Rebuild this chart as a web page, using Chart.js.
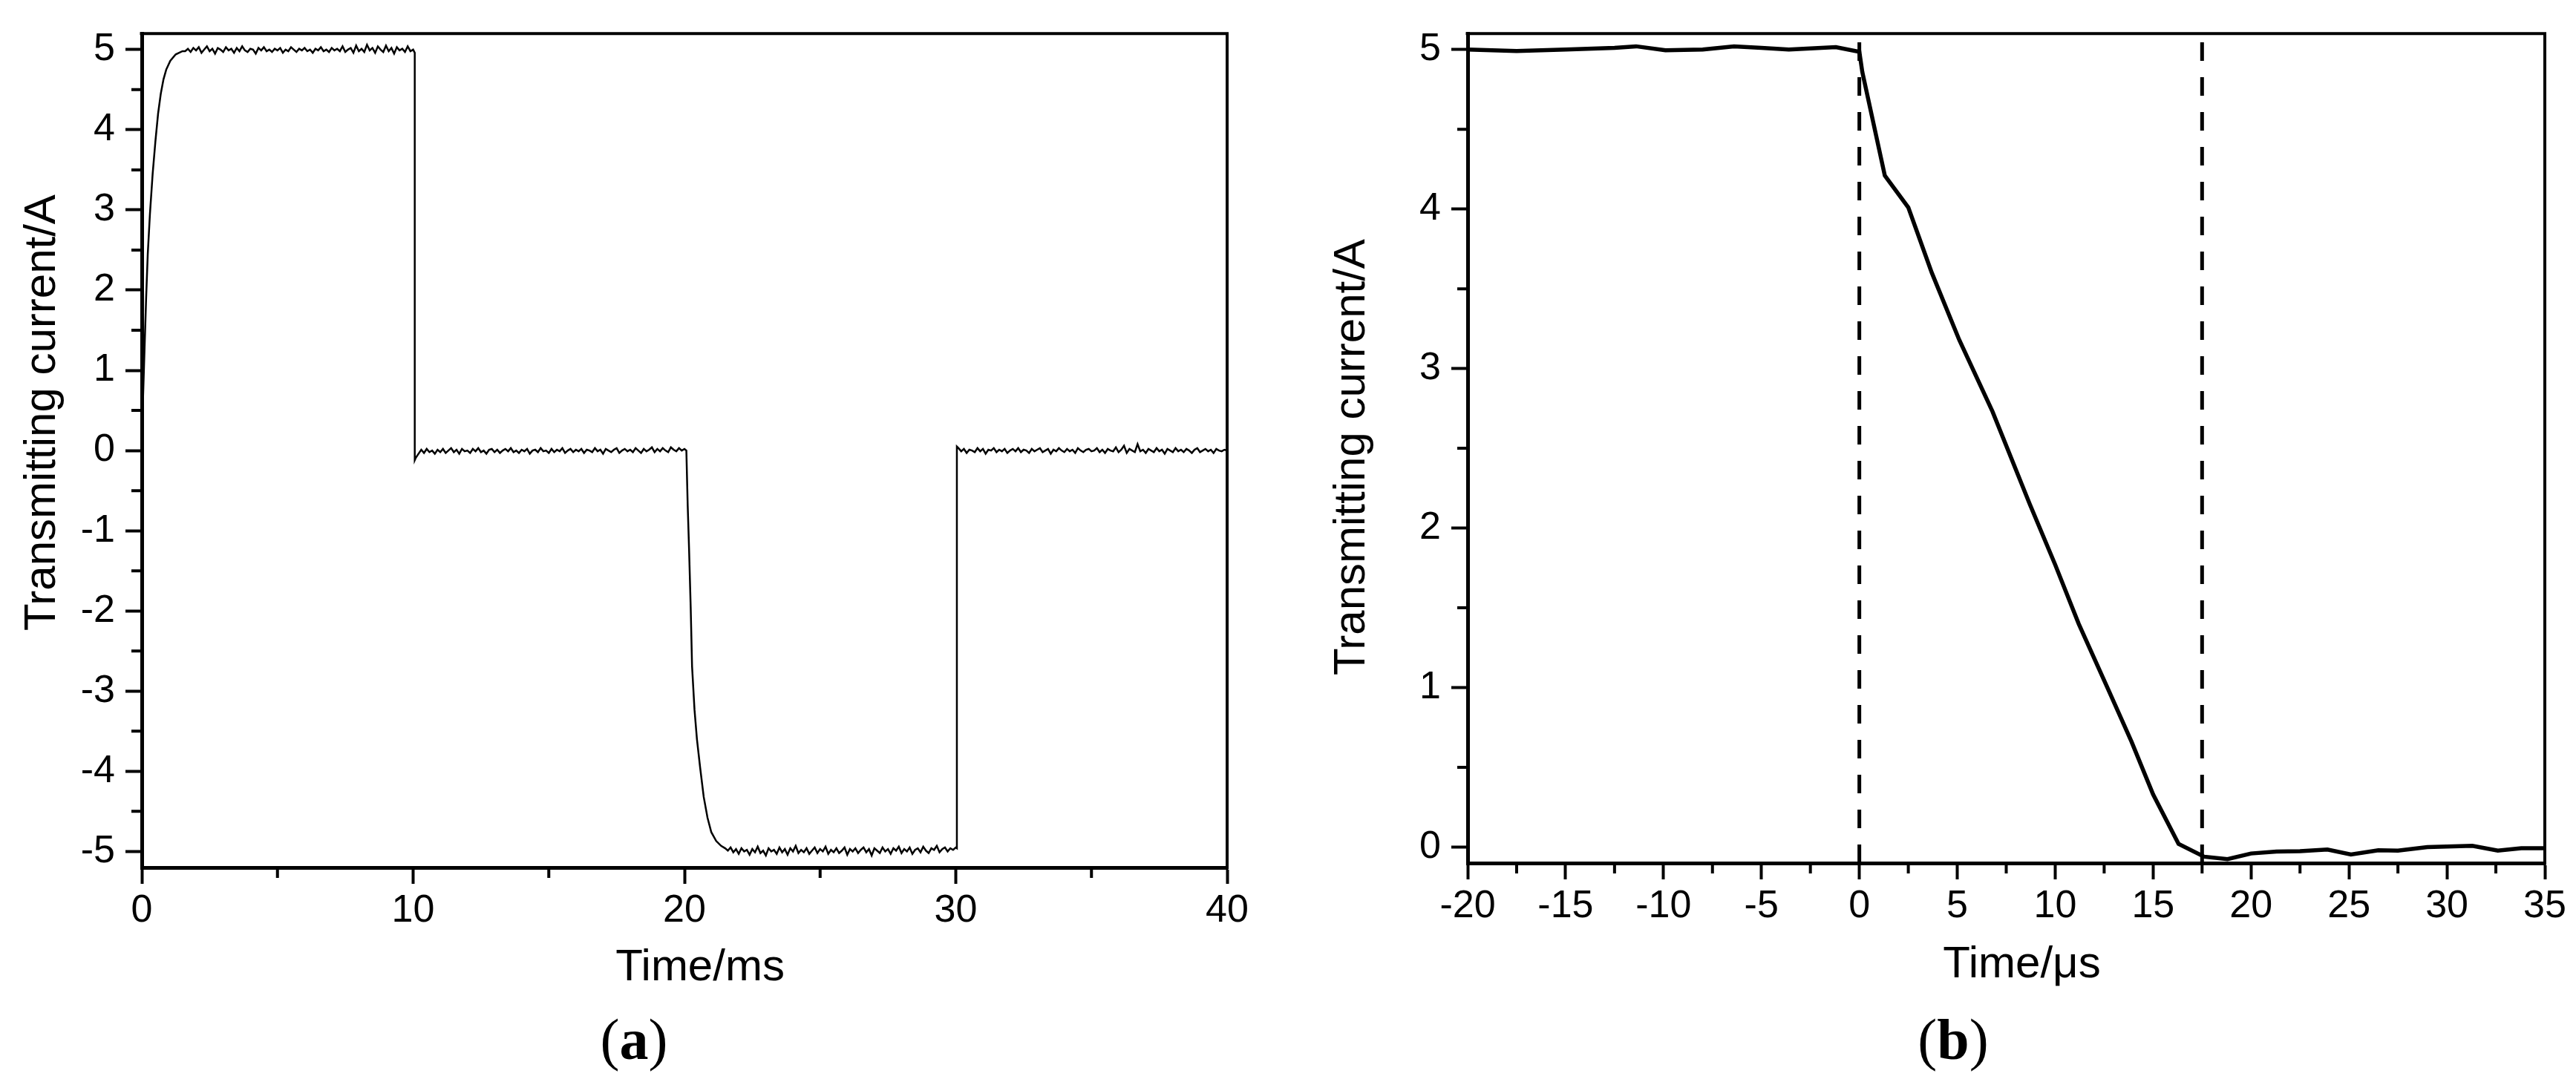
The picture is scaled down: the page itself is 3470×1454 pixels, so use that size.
<!DOCTYPE html>
<html>
<head>
<meta charset="utf-8">
<title>Transmitting current</title>
<script src="https://cdn.jsdelivr.net/npm/chart.js@4.4.1/dist/chart.umd.min.js"></script>
<style>
  html, body { margin: 0; padding: 0; background: #fff; }
  #page { position: relative; width: 3470px; height: 1454px; overflow: hidden; background: #fff; }
  canvas { position: absolute; top: 0; }
  #chart-a { left: 0; }
  #chart-b { left: 1735px; }
  .caption {
    position: absolute; top: 1362px; width: 400px; text-align: center;
    font-family: "Liberation Serif", "Times New Roman", serif;
    font-size: 78px; line-height: 78px; color: #000;
  }
  #cap-a { left: 654px; }
  #cap-b { left: 2431px; }
</style>
</head>
<body>
<div id="page">
  <canvas id="chart-a" width="1735" height="1454"></canvas>
  <canvas id="chart-b" width="1735" height="1454"></canvas>
  <div class="caption" id="cap-a">(<b>a</b>)</div>
  <div class="caption" id="cap-b">(<b>b</b>)</div>
</div>
<script>
// ---- (a) full cycle, time in ms ----
const sampleMs = 0.1; // flat parts read every 0.1 ms

const riseTimeA = [0, 0.05, 0.1, 0.16, 0.22, 0.3, 0.4, 0.5, 0.6, 0.7, 0.8, 0.9, 1.05, 1.25, 1.5];
const riseCurrentA = [0, 0.7, 1.25, 1.9, 2.45, 2.95, 3.45, 3.85, 4.2, 4.45, 4.63, 4.75, 4.86, 4.94, 4.98];

// 1.6 .. 10.0 ms
const highFlatA = [
  4.98, 5.01, 4.97, 5.02, 4.99, 5.03, 4.96, 5.00, 5.04, 4.98,
  5.01, 4.95, 5.02, 5.00, 4.97, 5.03, 4.99, 5.01, 4.96, 5.02,
  4.98, 5.04, 4.99, 4.97, 5.01, 5.00, 4.95, 5.02, 4.99, 5.03,
  4.98, 5.00, 4.97, 5.01, 4.99, 5.02, 4.96, 5.00, 4.98, 5.03,
  5.00, 4.97, 5.01, 4.99, 5.02, 4.98, 5.00, 4.96, 5.01, 4.99,
  5.03, 4.98, 5.00, 4.97, 5.02, 4.99, 5.01, 4.98, 5.04, 4.97,
  5.00, 5.02, 4.96, 5.05, 4.98, 5.01, 4.97, 5.06, 4.99, 5.02,
  4.96, 5.04, 5.00, 4.97, 5.05, 4.98, 5.02, 4.95, 5.03, 4.99,
  5.01, 4.97, 5.04, 4.98, 5.00
];

const offTimeA = [10.06, 10.06];
const offCurrentA = [4.96, -0.12];

// 10.1 .. 20.0 ms
const zeroFlatA = [
  -0.09, -0.04, 0.01, -0.03, 0.02, -0.02, 0.00, -0.04, 0.01, -0.02,
  0.02, -0.03, 0.00, 0.03, -0.02, 0.01, -0.04, 0.02, -0.01, 0.00,
  -0.03, 0.02, -0.01, 0.03, -0.02, 0.00, -0.04, 0.01, 0.02, -0.02,
  0.01, -0.03, 0.00, 0.02, -0.01, 0.03, -0.02, 0.00, -0.03, 0.01,
  -0.01, 0.02, -0.04, 0.00, 0.01, -0.02, 0.03, -0.01, 0.00, -0.03,
  0.02, -0.02, 0.01, -0.01, 0.03, -0.03, 0.00, 0.02, -0.02, 0.01,
  -0.01, 0.02, -0.03, 0.01, 0.00, -0.02, 0.03, -0.01, 0.01, -0.04,
  0.02, 0.00, -0.02, 0.01, 0.03, -0.03, 0.00, 0.02, -0.01, 0.01,
  -0.02, 0.03, 0.00, -0.03, 0.02, -0.01, 0.01, 0.04, -0.02, 0.02,
  -0.01, 0.03, 0.00, -0.02, 0.04, 0.01, -0.01, 0.03, 0.00, 0.02
];

const fallTimeA = [20.07, 20.12, 20.17, 20.23, 20.28, 20.37, 20.46, 20.58, 20.71, 20.85, 20.99, 21.17, 21.35, 21.5];
const fallCurrentA = [0.0, -0.69, -1.23, -1.96, -2.69, -3.23, -3.6, -3.96, -4.32, -4.58, -4.76, -4.87, -4.93, -4.96];

// 21.6 .. 30.0 ms
const lowFlatA = [
  -4.99, -4.95, -5.01, -4.97, -5.03, -4.96, -5.00, -4.98, -5.04, -4.97,
  -5.01, -4.94, -5.02, -4.99, -5.05, -4.96, -5.00, -4.98, -5.03, -4.95,
  -5.01, -4.97, -5.04, -4.96, -5.00, -4.93, -5.02, -4.98, -5.01, -4.96,
  -5.03, -4.99, -4.95, -5.02, -4.97, -5.00, -4.94, -5.03, -4.98, -5.01,
  -4.96, -5.02, -4.99, -4.95, -5.04, -4.97, -5.00, -4.96, -5.02, -4.98,
  -4.95, -5.01, -4.97, -5.05, -4.96, -4.99, -5.02, -4.95, -5.00, -4.97,
  -5.03, -4.96, -4.99, -4.94, -5.02, -4.97, -5.00, -4.95, -5.03, -4.98,
  -4.96, -5.01, -4.94, -4.99, -5.02, -4.96, -4.98, -4.93, -5.01, -4.97,
  -4.95, -5.00, -4.96, -4.98, -4.95
];

const onTimeA = [30.04, 30.04];
const onCurrentA = [-4.96, 0.05];

// 30.1 .. 40.0 ms
const restFlatA = [
  0.03, -0.01, 0.02, -0.03, 0.01, 0.00, -0.02, 0.03, -0.01, 0.02,
  -0.04, 0.01, 0.00, 0.03, -0.02, 0.01, -0.01, 0.02, -0.03, 0.00,
  0.02, -0.01, 0.03, -0.02, 0.01, 0.00, -0.03, 0.02, -0.01, 0.01,
  0.03, -0.02, 0.00, 0.02, -0.04, 0.01, -0.01, 0.03, 0.00, -0.02,
  0.02, -0.01, 0.01, -0.03, 0.03, 0.00, -0.02, 0.01, 0.02, -0.01,
  0.00, 0.03, -0.02, 0.01, -0.03, 0.02, 0.00, -0.01, 0.04, -0.02,
  0.01, 0.06, -0.03, 0.02, 0.00, -0.02, 0.08, -0.01, 0.01, -0.03,
  0.02, 0.00, -0.02, 0.03, -0.01, 0.01, -0.04, 0.02, 0.00, -0.02,
  0.03, -0.01, 0.01, -0.02, 0.02, 0.00, -0.03, 0.01, 0.03, -0.02,
  0.00, 0.02, -0.01, 0.01, -0.03, 0.02, 0.00, -0.01, 0.01, 0.00
];

const xTicksA = [0, 10, 20, 30, 40];
const xMinorA = [5, 15, 25, 35];
const yTicksA = [-5, -4, -3, -2, -1, 0, 1, 2, 3, 4, 5];
const yMinorA = [-4.5, -3.5, -2.5, -1.5, -0.5, 0.5, 1.5, 2.5, 3.5, 4.5];

// ---- (b) turn-off edge, time in us ----
const timeB = [-20, -17.5, -15, -12.5, -11.4, -9.9, -8, -6.4, -5, -3.6,
  -1.2, 0.0, 0.15, 1.3, 2.5, 3.7, 5.1, 6.8, 8.7, 10.0,
  11.2, 12.7, 13.9, 15.0, 16.3, 17.6, 18.8, 20.0, 21.3, 22.5,
  23.9, 25.1, 26.5, 27.5, 29.0, 31.3, 32.6, 33.8, 35];
const currentB = [5.0, 4.99, 5.0, 5.01, 5.02, 4.995, 5.0, 5.02, 5.01, 5.0,
  5.015, 4.985, 4.86, 4.21, 4.01, 3.6, 3.18, 2.73, 2.15, 1.77,
  1.40, 0.99, 0.66, 0.33, 0.02, -0.06, -0.075, -0.04, -0.028, -0.026,
  -0.015, -0.046, -0.02, -0.022, 0.0, 0.008, -0.022, -0.007, -0.007];
const cursorTimesB = [0, 17.5];

const xTicksB = [-20, -15, -10, -5, 0, 5, 10, 15, 20, 25, 30, 35];
const xMinorB = [-17.5, -12.5, -7.5, -2.5, 2.5, 7.5, 12.5, 17.5, 22.5, 27.5, 32.5];
const yTicksB = [0, 1, 2, 3, 4, 5];
const yMinorB = [0.5, 1.5, 2.5, 3.5, 4.5];

// ---- helpers ----
function pairs(times, values) {
  return times.map((t, i) => ({ x: t, y: values[i] }));
}
function sampled(startMs, values) {
  return values.map((v, i) => ({ x: +(startMs + i * sampleMs).toFixed(2), y: v }));
}

const traceA = [].concat(
  pairs(riseTimeA, riseCurrentA),
  sampled(1.6, highFlatA),
  pairs(offTimeA, offCurrentA),
  sampled(10.1, zeroFlatA),
  pairs(fallTimeA, fallCurrentA),
  sampled(21.6, lowFlatA),
  pairs(onTimeA, onCurrentA),
  sampled(30.1, restFlatA)
);

Chart.defaults.font.family = '"Liberation Sans", Arial, sans-serif';
Chart.defaults.color = '#000';

const tickFont = { size: 52, lineHeight: 1.2 };
const titleFont = { size: 60, lineHeight: 1 };

function makeScale(cfg) {
  return {
    type: 'linear',
    min: cfg.min,
    max: cfg.max,
    afterBuildTicks: s => { s.ticks = cfg.ticks.map(v => ({ value: v })); },
    afterFit: s => {
      if (cfg.width) s.width = cfg.width;
      if (cfg.height) s.height = cfg.height;
    },
    border: { display: true, color: '#000', width: 5 },
    grid: { drawOnChartArea: false, drawTicks: true, tickLength: 22, tickWidth: 4, tickColor: '#000' },
    ticks: { font: tickFont, color: '#000', padding: cfg.pad, maxRotation: 0, autoSkip: false },
    title: { display: true, text: cfg.title, font: titleFont, color: '#000', padding: cfg.titlePad }
  };
}

// frame top/right edges + short minor ticks pointing outwards
const frameAndMinor = {
  id: 'frameAndMinor',
  afterDraw(chart, args, opts) {
    const { ctx, chartArea: a, scales } = chart;
    ctx.save();
    ctx.strokeStyle = '#000';
    ctx.lineWidth = 4;
    ctx.beginPath();
    ctx.moveTo(a.left - 2.5, a.top);
    ctx.lineTo(a.right, a.top);
    ctx.lineTo(a.right, a.bottom + 2.5);
    ctx.stroke();
    ctx.beginPath();
    opts.minorX.forEach(v => {
      const px = scales.x.getPixelForValue(v);
      ctx.moveTo(px, a.bottom);
      ctx.lineTo(px, a.bottom + 14);
    });
    opts.minorY.forEach(v => {
      const py = scales.y.getPixelForValue(v);
      ctx.moveTo(a.left, py);
      ctx.lineTo(a.left - 14, py);
    });
    ctx.stroke();
    ctx.restore();
  }
};

function initChartA() {
  const ctx = document.getElementById('chart-a').getContext('2d');
  new Chart(ctx, {
    type: 'line',
    data: {
      datasets: [{
        data: traceA,
        borderColor: '#000',
        borderWidth: 2.5,
        pointRadius: 0,
        tension: 0,
        fill: false
      }]
    },
    options: {
      responsive: false,
      devicePixelRatio: 1,
      animation: false,
      events: [],
      layout: { padding: { left: 0, top: 39, right: 82, bottom: 0 } },
      scales: {
        x: makeScale({ min: 0, max: 40, ticks: xTicksA, pad: 5, height: 285,
          title: '\u2002\u2009Time/ms', titlePad: { top: 0, bottom: 120 } }),
        y: makeScale({ min: -5.2, max: 5.2, ticks: yTicksA, pad: 14, width: 191,
          title: '\u2003\u2002\u2009Transmitting current/A', titlePad: { top: 27, bottom: 0 } })
      },
      plugins: {
        legend: { display: false },
        tooltip: { enabled: false },
        frameAndMinor: { minorX: xMinorA, minorY: yMinorA }
      }
    },
    plugins: [frameAndMinor]
  });
}

function initChartB() {
  const ctx = document.getElementById('chart-b').getContext('2d');
  const yMinB = -0.1, yMaxB = 5.1;
  const cursors = cursorTimesB.map(t => ({
    data: [{ x: t, y: yMinB }, { x: t, y: yMaxB }],
    borderColor: '#000',
    borderWidth: 5,
    borderDash: [25, 22],
    pointRadius: 0,
    tension: 0,
    fill: false
  }));
  new Chart(ctx, {
    type: 'line',
    data: {
      datasets: [{
        data: pairs(timeB, currentB),
        borderColor: '#000',
        borderWidth: 5.5,
        pointRadius: 0,
        tension: 0,
        fill: false
      }].concat(cursors)
    },
    options: {
      responsive: false,
      devicePixelRatio: 1,
      animation: false,
      events: [],
      layout: { padding: { left: 0, top: 45, right: 42, bottom: 0 } },
      scales: {
        x: makeScale({ min: -20, max: 35, ticks: xTicksB, pad: 5, height: 291,
          title: '\u2002\u2009Time/\u03bcs', titlePad: { top: 0, bottom: 124 } }),
        y: makeScale({ min: yMinB, max: yMaxB, ticks: yTicksB, pad: 14, width: 242,
          title: 'Transmitting current/A\u2009\u2009', titlePad: { top: 56, bottom: 0 } })
      },
      plugins: {
        legend: { display: false },
        tooltip: { enabled: false },
        frameAndMinor: { minorX: xMinorB, minorY: yMinorB }
      }
    },
    plugins: [frameAndMinor]
  });
}

initChartA();
initChartB();
</script>
</body>
</html>
